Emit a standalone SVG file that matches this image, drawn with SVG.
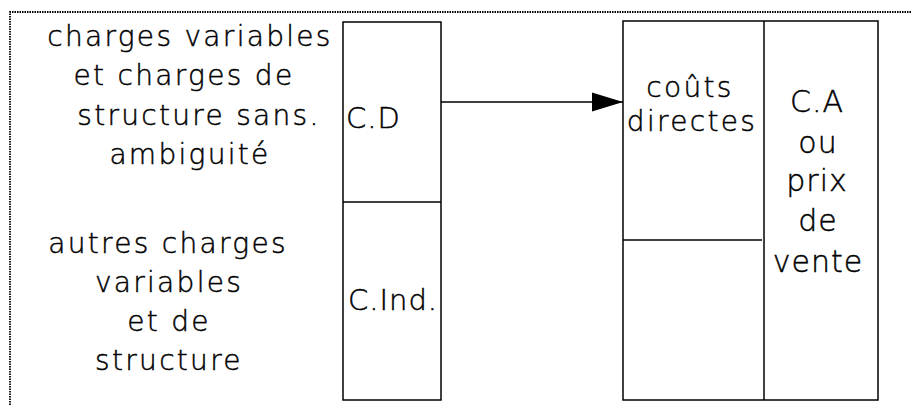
<svg xmlns="http://www.w3.org/2000/svg" width="912" height="405" viewBox="0 0 912 405">
<style>
.frame{fill:none;stroke:#000;stroke-width:1.8;stroke-dasharray:1.5 1}
.box{fill:#fff;stroke:#000;stroke-width:1.5}
.ln{stroke:#000;stroke-width:1.5;fill:none}
text{font-family:"DejaVu Sans",Verdana,sans-serif;font-weight:200;fill:#000;stroke:#000;stroke-width:0.45}
.lbl{font-size:28px;letter-spacing:2.3px;text-anchor:middle}
.big{font-size:30px;text-anchor:middle;letter-spacing:1px}
.box-lbl{font-size:29px;letter-spacing:1px}
</style>
<defs>
<marker id="ah" markerWidth="31" markerHeight="20" refX="31" refY="10" orient="auto" markerUnits="userSpaceOnUse">
<path d="M0,0.5 L31,10 L0,19.5 Z" fill="#000"/>
</marker>
</defs>
<rect width="912" height="405" fill="#fff"/>
<path class="frame" d="M10,405 V12 H912"/>

<g id="text-direct">
<text class="lbl" x="190" y="46">charges variables</text>
<text class="lbl" x="184" y="85">et charges de</text>
<text class="lbl" x="199" y="125">structure sans.</text>
<text class="lbl" x="190" y="164">ambiguité</text>
</g>

<g id="text-indirect">
<text class="lbl" x="168" y="253">autres charges</text>
<text class="lbl" x="169" y="292">variables</text>
<text class="lbl" x="169" y="331">et de</text>
<text class="lbl" x="169" y="370">structure</text>
</g>

<g id="left-box">
<rect class="box" x="343" y="22" width="98" height="378"/>
<line class="ln" x1="343" y1="202" x2="441" y2="202"/>
<text class="box-lbl" x="346" y="128">C.D</text>
<text class="box-lbl" x="348" y="310">C.Ind.</text>
</g>

<g id="right-box">
<rect class="box" x="623" y="21" width="255" height="379"/>
<line class="ln" x1="764" y1="21" x2="764" y2="400"/>
<line class="ln" x1="623" y1="240" x2="762" y2="240"/>
<text class="lbl" x="690" y="97">coûts</text>
<text class="lbl" x="692" y="131">directes</text>
<text class="big" x="817" y="112">C.A</text>
<text class="big" x="818" y="153">ou</text>
<text class="big" x="817" y="191">prix</text>
<text class="big" x="818" y="231">de</text>
<text class="big" x="818" y="272">vente</text>
</g>

<g id="connectors">
<line class="ln" x1="441" y1="102" x2="623" y2="102" marker-end="url(#ah)"/>
</g>
</svg>
